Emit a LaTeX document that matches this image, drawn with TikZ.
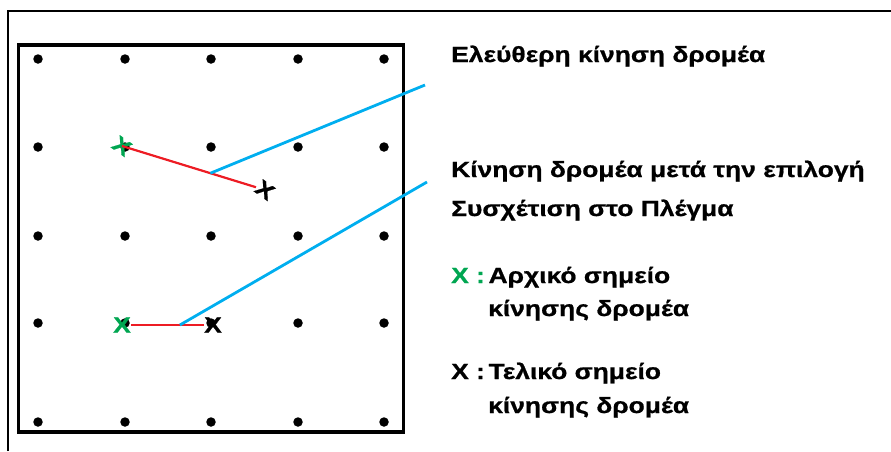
\documentclass[tikz,border=0pt]{standalone}
\usepackage{fontspec}
\setmainfont{Liberation Sans Bold}[FakeStretch=1.2, FakeBold=0.8]
\usetikzlibrary{positioning}
\definecolor{mkgreen}{RGB}{0,166,81}
\definecolor{mkred}{RGB}{237,28,36}
\definecolor{mkblue}{RGB}{0,174,239}
\newcommand{\lblfont}{\fontsize{22}{36}\selectfont}
\tikzset{
  gdot/.style ={circle, fill=black, inner sep=0pt, minimum size=9.5pt},
  xmk/.style  ={inner sep=0pt, font=\lblfont},
  lbl/.style  ={anchor=base west, inner sep=0pt, font=\lblfont},
  mv/.style   ={draw=mkred, line width=2.2pt},
  lnk/.style  ={draw=mkblue, line width=2.8pt},
}
\begin{document}
\begin{tikzpicture}[x=1pt,y=-1pt]
\useasboundingbox (0,0) rectangle (891,451);
% frame and grid box
\draw[line width=2.2pt] (8,451) -- (8,11) -- (891,11);
\draw[line width=3.8pt] (18.5,45) rectangle (403.5,432);
% grid points
\foreach \c/\x in {1/38,2/125,3/211,4/298,5/384}
  \foreach \r/\y in {1/59,2/147,3/236,4/323,5/422}
    \node[gdot] (p\c\r) at (\x,\y) {};
% cursor marks
\node[xmk, text=mkgreen, rotate=-35] (xs1) at (122,146) {X};
\node[xmk, rotate=-35]               (xe1) at (265,190) {X};
\node[xmk, text=mkgreen]             (xs2) at (122,325) {X};
\node[xmk]                           (xe2) at (213,325) {X};
\draw[mv] (xs1.center) -- coordinate[pos=0.66] (j1) (xe1);
\draw[mv] (xs2) -- coordinate[pos=0.67] (j2) (xe2);
% labels
\node[lbl] (free) at (451,62)  {Ελεύθερη κίνηση δρομέα};
\node[lbl] (snap) at (451,177) {Κίνηση δρομέα μετά την επιλογή};
\node[lbl] (snapb) at (451,216) {Συσχέτιση στο Πλέγμα};
\node[lbl] (lgs) at (451,283) {\textcolor{mkgreen}{X :}\,Αρχικό σημείο};
\node[lbl] (lgsb) at (488,316) {κίνησης δρομέα};
\node[lbl] (lge) at (451,379) {X :\,Τελικό σημείο};
\node[lbl] (lgeb) at (488,413) {κίνησης δρομέα};
% pointers
\coordinate (e1) at (425,85);
\coordinate (e2) at (427,182);
\draw[lnk] (j1) -- (e1);
\draw[lnk] (j2) -- (e2);
\end{tikzpicture}
\end{document}
